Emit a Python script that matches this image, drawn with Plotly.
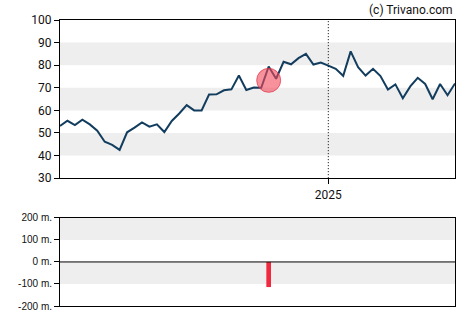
import pandas as pd
import plotly.graph_objects as go

# Weekly closing prices
dates = pd.date_range("2024-04-24", periods=54, freq="7D")
prices = [53.1, 55.4, 53.5, 55.9, 53.8, 51.0, 46.1, 44.7, 42.5, 50.3,
          52.4, 54.7, 52.8, 53.8, 50.4, 55.3, 58.6, 62.3, 60.0, 60.0,
          67.0, 67.1, 68.9, 69.3, 75.4, 69.0, 70.1, 70.0, 79.4, 74.0,
          81.5, 80.4, 83.1, 85.0, 80.3, 81.2, 79.8, 78.4, 75.3, 86.1,
          79.1, 75.4, 78.4, 75.2, 69.2, 71.5, 65.4, 70.6, 74.4, 71.7,
          64.9, 71.7, 66.7, 71.9]

# Insider transaction: date, price, net value
trade_dates = [dates[28]]
trade_prices = [73.3]
trade_values = [-114e6]

price_ticks = [30, 40, 50, 60, 70, 80, 90, 100]
volume_ticks = [-200e6, -100e6, 0, 100e6, 200e6]
volume_labels = ["-200 m.", "-100 m.", "0 m.", "100 m.", "200 m."]
year_mark = pd.Timestamp("2025-01-01")

fig = go.Figure()

fig.add_trace(go.Scatter(
    x=dates, y=prices, mode="lines",
    line=dict(color="#123d5e", width=2),
    xaxis="x", yaxis="y", hoverinfo="skip"))

fig.add_trace(go.Scatter(
    x=trade_dates, y=trade_prices, mode="markers",
    marker=dict(size=24, color="rgba(242,72,90,0.6)",
                line=dict(color="rgba(225,50,70,0.7)", width=1)),
    xaxis="x", yaxis="y", hoverinfo="skip"))

fig.add_trace(go.Bar(
    x=trade_dates, y=trade_values, width=4.4 * 86400000,
    marker=dict(color="#f0293f", line=dict(width=0)),
    xaxis="x2", yaxis="y2", hoverinfo="skip"))

shapes = []
# alternating bands in the price panel
for lo in (40, 60, 80):
    shapes.append(dict(type="rect", xref="x domain", yref="y",
                       x0=0, x1=1, y0=lo, y1=lo + 10,
                       fillcolor="#eeeeee", line=dict(width=0), layer="below"))
# bands in the volume panel
for lo in (100e6, -100e6):
    shapes.append(dict(type="rect", xref="x2 domain", yref="y2",
                       x0=0, x1=1, y0=lo, y1=lo + 100e6,
                       fillcolor="#eeeeee", line=dict(width=0), layer="below"))
# zero line in the volume panel
shapes.append(dict(type="line", xref="x2 domain", yref="y2",
                   x0=0, x1=1, y0=0, y1=0,
                   line=dict(color="black", width=1)))
# year separator
shapes.append(dict(type="line", xref="x", yref="y",
                   x0=year_mark, x1=year_mark, y0=30, y1=100,
                   line=dict(color="black", width=1, dash="1px,2px")))

tick_font = dict(family="Roboto, Arial, sans-serif", size=12, color="#111111")
vol_font = dict(family="Liberation Sans, Arial, sans-serif", size=10, color="#111111")

fig.update_layout(
    width=470, height=325,
    margin=dict(l=60, r=15, t=20, b=15),
    paper_bgcolor="white", plot_bgcolor="white",
    showlegend=False,
    shapes=shapes,
    xaxis=dict(domain=[0, 1], anchor="y",
               range=[dates[0], dates[-1]],
               tickvals=[year_mark], ticktext=["2025"],
               ticks="outside", ticklen=5, tickcolor="black",
               showgrid=False, zeroline=False,
               showline=True, linecolor="black", linewidth=1, mirror=True,
               tickfont=tick_font),
    yaxis=dict(domain=[0.447, 1.0], anchor="x",
               range=[30, 100], tickvals=price_ticks,
               ticks="outside", ticklen=5, tickcolor="black",
               showgrid=False, zeroline=False,
               showline=True, linecolor="black", linewidth=1, mirror=True,
               tickfont=tick_font),
    xaxis2=dict(domain=[0, 1], anchor="y2",
                range=[dates[0], dates[-1]],
                showticklabels=False, ticks="",
                showgrid=False, zeroline=False,
                showline=True, linecolor="black", linewidth=1, mirror=True),
    yaxis2=dict(domain=[0, 0.308], anchor="x2",
                range=[-200e6, 200e6],
                tickvals=volume_ticks, ticktext=volume_labels,
                ticks="outside", ticklen=5, tickcolor="black",
                showgrid=False, zeroline=False,
                showline=True, linecolor="black", linewidth=1, mirror=True,
                tickfont=vol_font),
    annotations=[dict(text="(c) Trivano.com", xref="paper", yref="paper",
                      x=1, y=1, xanchor="right", yanchor="bottom", yshift=1,
                      showarrow=False,
                      font=dict(family="Roboto, Arial, sans-serif", size=12,
                                color="#111111"))],
)

fig.write_html("out.html")
